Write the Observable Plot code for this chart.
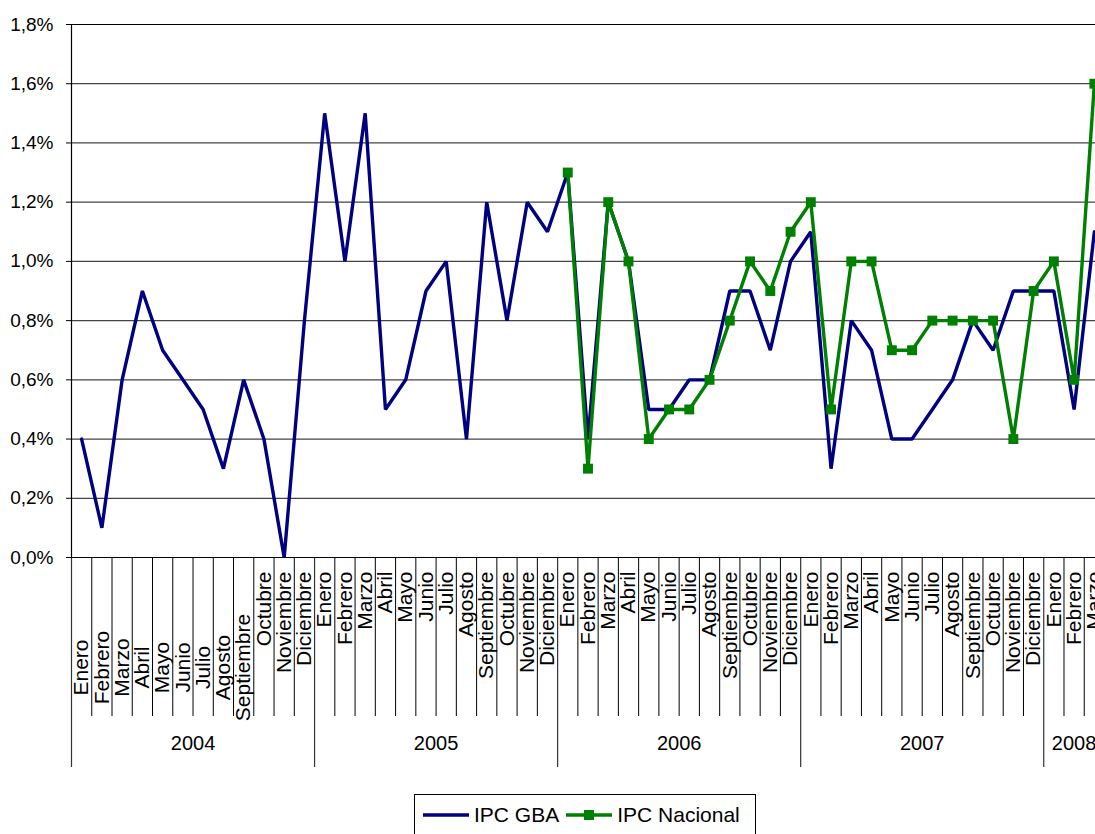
<!DOCTYPE html>
<html>
<head>
<meta charset="utf-8">
<script src="https://cdn.jsdelivr.net/npm/d3@7"></script>
<script src="https://cdn.jsdelivr.net/npm/@observablehq/plot@0.6"></script>
<style>
  html, body { margin: 0; padding: 0; background: #fff; overflow: hidden; }
  body { font-family: "Liberation Sans", Arial, sans-serif; width: 1095px; height: 834px; position: relative; }
  #chart { position: absolute; left: 0; top: 0; width: 1104px; }
  #chart svg { max-width: none !important; }
  #legend { position: absolute; left: 414px; top: 794px; width: 342px; height: 50px; border: 1px solid #000; box-sizing: border-box; background: #fff;
            font-size: 21px; color: #000; display: flex; align-items: flex-start; padding-top: 8px; padding-left: 7px; }
  #legend .item { display: flex; align-items: center; margin-right: 6px; }
  #legend svg { margin-right: 4px; }
</style>
</head>
<body>
<div id="chart"></div>
<div id="legend"></div>
<script>
// ---- data ----
const months = ["Enero","Febrero","Marzo","Abril","Mayo","Junio","Julio","Agosto","Septiembre","Octubre","Noviembre","Diciembre"];
const years = ["2004","2005","2006","2007","2008"];
const yTicks = [0, 0.2, 0.4, 0.6, 0.8, 1.0, 1.2, 1.4, 1.6, 1.8];
const seriesNames = ["IPC GBA", "IPC Nacional"];
// IPC GBA, Enero 2004 .. Marzo 2008 (% mensual)
const ipcGBA = [
  0.4, 0.1, 0.6, 0.9, 0.7, 0.6, 0.5, 0.3, 0.6, 0.4, 0.0, 0.8,
  1.5, 1.0, 1.5, 0.5, 0.6, 0.9, 1.0, 0.4, 1.2, 0.8, 1.2, 1.1,
  1.3, 0.4, 1.2, 1.0, 0.5, 0.5, 0.6, 0.6, 0.9, 0.9, 0.7, 1.0,
  1.1, 0.3, 0.8, 0.7, 0.4, 0.4, 0.5, 0.6, 0.8, 0.7, 0.9, 0.9,
  0.9, 0.5, 1.1
];
// IPC Nacional, Enero 2006 .. Marzo 2008
const ipcNacional = [
  1.3, 0.3, 1.2, 1.0, 0.4, 0.5, 0.5, 0.6, 0.8, 1.0, 0.9, 1.1,
  1.2, 0.5, 1.0, 1.0, 0.7, 0.7, 0.8, 0.8, 0.8, 0.8, 0.4, 0.9,
  1.0, 0.6, 1.6
];
const nacionalStart = 24; // index of Enero 2006

// ---- tables ----
const rows = ipcGBA.map((v, i) => ({
  i, month: months[i % 12], year: years[Math.floor(i / 12)], gba: v,
  nac: i >= nacionalStart ? ipcNacional[i - nacionalStart] : null
}));
const nacRows = rows.filter(d => d.nac != null);
const nMonths = rows.length;
const yearGroups = years.map((y) => {
  const idx = rows.filter(d => d.year === y).map(d => d.i);
  return { year: y, center: (d3.min(idx) + d3.max(idx) + 1) / 2 };
});
const yearBounds = years.map((y, k) => k * 12);
const monthBounds = d3.range(0, nMonths + 1).filter(b => b % 12 !== 0);

const fmt = d => d.toFixed(1).replace(".", ",") + "%";
const blue = "#000080", green = "#008000";

const chart = Plot.plot({
  width: 1104,
  height: 790,
  marginLeft: 71,
  marginRight: 0,
  marginTop: 24,
  marginBottom: 233,
  style: { fontFamily: "'Liberation Sans', Arial, sans-serif", background: "#fff", color: "#000", overflow: "visible", maxWidth: "none" },
  x: { type: "linear", domain: [0, nMonths], label: null },
  y: { domain: [0, 1.8], label: null },
  marks: [
    Plot.ruleY(yTicks.filter(t => t > 0 && t < 1.8), { stroke: "#444", strokeWidth: 1.2 }),
    Plot.ruleY([1.8], { stroke: "#000", strokeWidth: 1.2 }),
    Plot.axisY({ ticks: yTicks, tickSize: 5, tickPadding: 13, tickFormat: fmt, fontSize: 19, stroke: "#000", label: null }),
    // category separators
    Plot.axisX({ ticks: monthBounds, tickSize: 159, tickFormat: () => "", stroke: "#000", strokeOpacity: 1, label: null }),
    Plot.axisX({ ticks: yearBounds, tickSize: 210, tickFormat: () => "", stroke: "#333", strokeOpacity: 1, strokeWidth: 1.2, label: null }),
    // month labels
    Plot.text(rows.filter(d => d.year === years[0] && d.i < 9), {
      x: d => d.i + 0.5, text: "month", frameAnchor: "bottom", dy: 110,
      rotate: -90, textAnchor: "middle", lineAnchor: "middle", fontSize: 21, fill: "#000"
    }),
    Plot.text(rows.filter(d => !(d.year === years[0] && d.i < 9)), {
      x: d => d.i + 0.5, text: "month", frameAnchor: "bottom", dy: 14,
      rotate: -90, textAnchor: "end", lineAnchor: "middle", fontSize: 21, fill: "#000"
    }),
    // year labels
    Plot.text(yearGroups, { x: "center", text: "year", frameAnchor: "bottom", dy: 192, fontSize: 20, fill: "#000" }),
    Plot.ruleX([0], { stroke: "#000", strokeWidth: 1.2 }),
    Plot.ruleY([0], { stroke: "#000", strokeWidth: 1.2 }),
    // series
    Plot.line(rows, { x: d => d.i + 0.5, y: "gba", stroke: blue, strokeWidth: 3.4, strokeLinejoin: "miter" }),
    Plot.line(nacRows, { x: d => d.i + 0.5, y: "nac", stroke: green, strokeWidth: 3.4, strokeLinejoin: "miter" }),
    Plot.dot(nacRows, { x: d => d.i + 0.5, y: "nac", symbol: "square", r: 5.6, fill: green, stroke: "none" })
  ]
});
document.getElementById("chart").appendChild(chart);

// ---- legend ----
const legend = d3.select("#legend");
const items = [
  { name: seriesNames[0], color: blue, marker: false },
  { name: seriesNames[1], color: green, marker: true }
];
items.forEach(it => {
  const el = legend.append("div").attr("class", "item");
  const s = el.append("svg").attr("width", 48).attr("height", 20);
  s.append("line").attr("x1", 1).attr("x2", 47).attr("y1", 10).attr("y2", 10)
    .attr("stroke", it.color).attr("stroke-width", 3.4);
  if (it.marker) s.append("rect").attr("x", 19).attr("y", 5).attr("width", 10).attr("height", 10).attr("fill", it.color);
  el.append("span").text(it.name);
});
</script>
</body>
</html>
